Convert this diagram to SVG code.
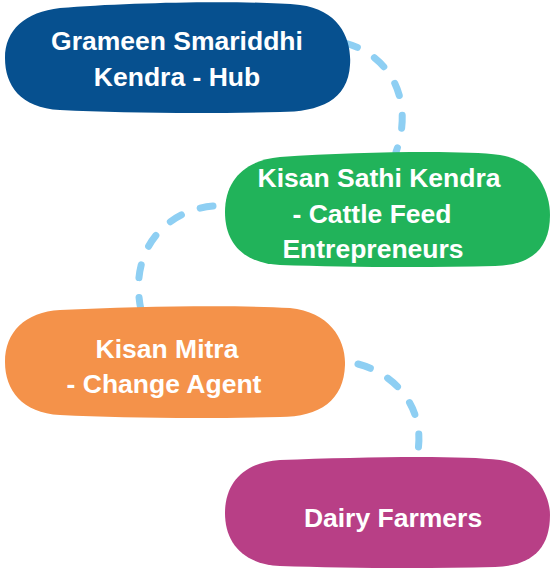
<svg xmlns="http://www.w3.org/2000/svg" width="550" height="569" viewBox="0 0 550 569">
<style>
.lbl{font-family:"Liberation Sans",Arial,sans-serif;font-weight:bold;font-size:26.5px;fill:#ffffff;text-anchor:middle}
.conn{fill:none;stroke:#8ECFF3;stroke-width:7;stroke-linecap:round;stroke-dasharray:13 20}
</style>
<rect width="550" height="569" fill="#ffffff"/>
<g id="connectors">
<path class="conn" d="M 345,43 C 392,56 414,102 396,152"/>
<path class="conn" d="M 213,206 C 168,210 128,248 141,310"/>
<path class="conn" d="M 358,364 C 402,376 428,416 416,460"/>
</g>
<g id="node-hub">
<path fill="#06508F" d="M 60,8 C 130,2 250,0 300,5 C 340,10 352,40 350,65 C 348,100 320,112 280,112 C 200,114 120,113 60,110 C 20,108 5,85 5,58 C 5,30 25,12 60,8 Z"/>
<text class="lbl" x="177" y="50">Grameen Smariddhi</text>
<text class="lbl" x="177" y="86">Kendra - Hub</text>
</g>
<g id="node-ksk">
<path fill="#21B35A" d="M 280,157 C 360,152 460,150 500,155 C 535,160 550,190 550,215 C 550,250 530,265 495,266 C 420,268 340,267 280,265 C 240,263 225,240 225,212 C 225,180 245,160 280,157 Z"/>
<text class="lbl" x="379" y="187">Kisan Sathi Kendra</text>
<text class="lbl" x="372" y="223">- Cattle Feed</text>
<text class="lbl" x="373" y="258">Entrepreneurs</text>
</g>
<g id="node-mitra">
<path fill="#F4924A" d="M 60,310 C 140,306 240,305 290,308 C 330,312 346,340 345,365 C 344,400 320,417 280,417 C 200,419 120,418 60,415 C 22,413 5,390 5,362 C 5,332 25,312 60,310 Z"/>
<text class="lbl" x="167" y="358">Kisan Mitra</text>
<text class="lbl" x="164" y="393">- Change Agent</text>
</g>
<g id="node-farmers">
<path fill="#B83F86" d="M 280,460 C 360,457 460,455 500,460 C 535,465 550,495 550,515 C 550,550 530,566 495,567 C 420,569 340,568 280,566 C 242,564 225,542 225,513 C 225,482 245,462 280,460 Z"/>
<text class="lbl" x="393" y="527">Dairy Farmers</text>
</g>
</svg>
